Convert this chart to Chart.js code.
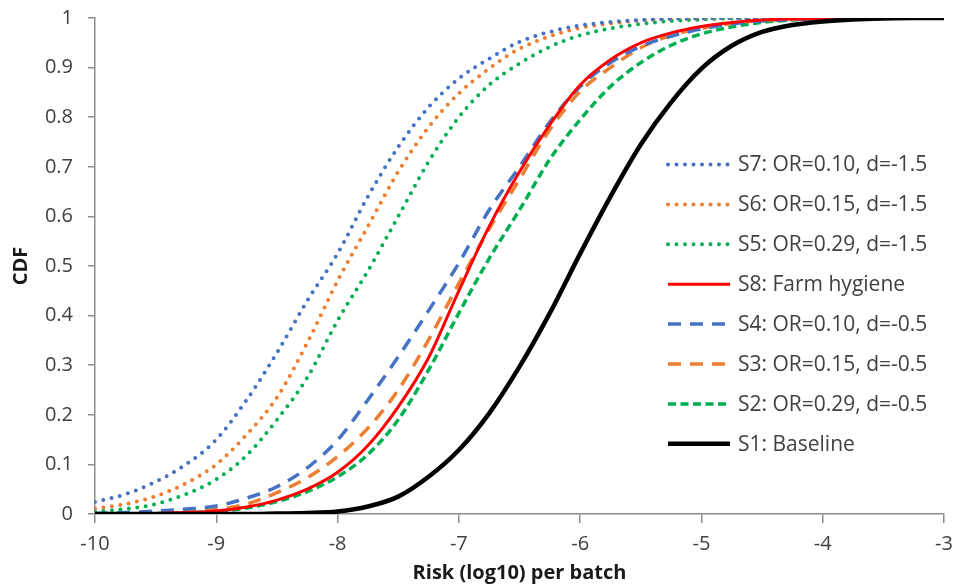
<!DOCTYPE html>
<html>
<head>
<meta charset="utf-8">
<title>CDF of risk per batch</title>
<script src="https://cdn.jsdelivr.net/npm/chart.js@4.4.1/dist/chart.umd.min.js"></script>
<style>
  html, body { margin: 0; padding: 0; background: #fff; overflow: hidden; }
  canvas { display: block; }
</style>
</head>
<body>
<canvas id="cdf" width="955" height="586"></canvas>
<script>
var xValues = [-10, -9.75, -9.5, -9.25, -9, -8.75, -8.5, -8.25, -8, -7.75, -7.5, -7.25, -7, -6.75,
  -6.5, -6.25, -6, -5.75, -5.5, -5.25, -5, -4.75, -4.5, -4.25, -4, -3.75, -3.5, -3.25, -3];

var s7 = [0.024, 0.04, 0.065, 0.10, 0.15, 0.23, 0.325, 0.43, 0.525, 0.64, 0.74, 0.82, 0.878, 0.918,
  0.952, 0.972, 0.985, 0.992, 0.996, 0.998, 0.999, 1, 1, 1, 1, 1, 1, 1, 1];
var s6 = [0.011, 0.02, 0.036, 0.062, 0.10, 0.16, 0.235, 0.345, 0.47, 0.58, 0.69, 0.78, 0.848, 0.898,
  0.938, 0.963, 0.98, 0.989, 0.995, 0.998, 0.999, 1, 1, 1, 1, 1, 1, 1, 1];
var s5 = [0.005, 0.01, 0.02, 0.04, 0.07, 0.118, 0.19, 0.275, 0.39, 0.49, 0.60, 0.71, 0.80, 0.865,
  0.908, 0.942, 0.965, 0.979, 0.988, 0.994, 0.997, 0.999, 1, 1, 1, 1, 1, 1, 1];
var s8 = [0, 0.0005, 0.001, 0.003, 0.006, 0.014, 0.028, 0.05, 0.084, 0.138, 0.216, 0.315, 0.45, 0.58,
  0.69, 0.785, 0.865, 0.916, 0.95, 0.97, 0.983, 0.991, 0.996, 0.998, 0.999, 1, 1, 1, 1];
var s4 = [0.001, 0.003, 0.006, 0.01, 0.016, 0.032, 0.055, 0.093, 0.149, 0.23, 0.317, 0.41, 0.506, 0.613,
  0.70, 0.79, 0.862, 0.91, 0.943, 0.963, 0.978, 0.988, 0.994, 0.997, 0.999, 1, 1, 1, 1];
var s3 = [0.0005, 0.001, 0.003, 0.005, 0.009, 0.02, 0.043, 0.073, 0.116, 0.173, 0.25, 0.351, 0.465, 0.575,
  0.675, 0.775, 0.852, 0.90, 0.94, 0.965, 0.979, 0.989, 0.995, 0.998, 0.999, 1, 1, 1, 1];
var s2 = [0, 0.0005, 0.001, 0.003, 0.005, 0.012, 0.025, 0.045, 0.075, 0.12, 0.19, 0.29, 0.405, 0.515,
  0.613, 0.715, 0.795, 0.862, 0.91, 0.945, 0.968, 0.982, 0.991, 0.996, 0.999, 1, 1, 1, 1];
var s1 = [0, 0, 0, 0, 0, 0, 0.001, 0.002, 0.005, 0.015, 0.035, 0.075, 0.129, 0.203,
  0.297, 0.405, 0.525, 0.64, 0.745, 0.83, 0.898, 0.944, 0.972, 0.986, 0.993, 0.997, 0.999, 1, 1];

var seriesNames = ["S7: OR=0.10, d=-1.5", "S6: OR=0.15, d=-1.5", "S5: OR=0.29, d=-1.5", "S8: Farm hygiene",
  "S4: OR=0.10, d=-0.5", "S3: OR=0.15, d=-0.5", "S2: OR=0.29, d=-0.5", "S1: Baseline"];

var xTitle = "Risk (log10) per batch";
var yTitle = "CDF";

var BLUE = "#4472C4", ORANGE = "#ED7D31", GREEN = "#00B050", RED = "#FF0000", BLACK = "#000000";
var textColor = "#404040";
var axisColor = "#8c8c8c";

function pts(ys) {
  return xValues.map(function (x, i) { return {x: x, y: ys[i]}; });
}

function dotted(label, ys, color) {
  return {label: label, data: pts(ys), borderColor: color, borderWidth: 4, borderDash: [0, 8.5],
    borderCapStyle: "round", order: 2};
}
function dashed(label, ys, color, dash) {
  return {label: label, data: pts(ys), borderColor: color, borderWidth: 3.5, borderDash: dash,
    borderCapStyle: "butt", order: 2};
}

var datasets = [
  dotted(seriesNames[0], s7, BLUE),
  dotted(seriesNames[1], s6, ORANGE),
  dotted(seriesNames[2], s5, GREEN),
  {label: seriesNames[3], data: pts(s8), borderColor: RED, borderWidth: 3, order: 1},
  dashed(seriesNames[4], s4, BLUE, [13, 9]),
  dashed(seriesNames[5], s3, ORANGE, [13, 9]),
  dashed(seriesNames[6], s2, GREEN, [8, 4.5]),
  {label: seriesNames[7], data: pts(s1), borderColor: BLACK, borderWidth: 4.5, order: 0}
];

// legend drawn inside the plot, right-hand side, like the original
var insideLegend = {
  id: "insideLegend",
  afterDatasetsDraw: function (chart) {
    var ctx = chart.ctx;
    var area = chart.chartArea;
    var x0 = area.right - 276, x1 = area.right - 214, tx = area.right - 206;
    ctx.save();
    ctx.font = "21px 'Open Sans'";
    ctx.textBaseline = "middle";
    ctx.fillStyle = textColor;
    chart.data.datasets.forEach(function (ds, i) {
      var y = 164.5 + i * 39.9;
      ctx.strokeStyle = ds.borderColor;
      ctx.lineWidth = ds.borderWidth;
      ctx.setLineDash(ds.borderDash || []);
      ctx.lineCap = ds.borderCapStyle || "butt";
      ctx.beginPath();
      ctx.moveTo(x0, y);
      ctx.lineTo(x1, y);
      ctx.stroke();
      ctx.fillText(ds.label, tx, y + 1);
    });
    ctx.restore();
  }
};

Chart.defaults.font.family = "'Open Sans', 'DejaVu Sans', sans-serif";
Chart.defaults.color = textColor;

new Chart(document.getElementById("cdf"), {
  type: "line",
  data: {datasets: datasets},
  options: {
    responsive: false,
    maintainAspectRatio: false,
    animation: false,
    events: [],
    layout: {padding: {top: 18, right: 11, left: 0, bottom: 0}},
    elements: {
      point: {radius: 0},
      line: {cubicInterpolationMode: "monotone", fill: false}
    },
    plugins: {legend: {display: false}, tooltip: {enabled: false}},
    scales: {
      x: {
        type: "linear", min: -10, max: -3,
        afterFit: function (s) { s.height = 72; s.paddingLeft = 0; s.paddingRight = 0; },
        ticks: {stepSize: 1, font: {size: 20}, color: textColor, padding: 9, maxRotation: 0},
        grid: {drawOnChartArea: false, drawTicks: true, tickLength: 9, color: axisColor, lineWidth: 1.5},
        border: {color: axisColor, width: 1.5},
        title: {display: true, text: xTitle, color: "#1a1a1a", font: {size: 20, weight: "bold"},
          padding: {top: 0, bottom: 1}}
      },
      y: {
        min: 0, max: 1,
        afterFit: function (s) { s.width = 95; s.paddingTop = 0; s.paddingBottom = 0; },
        ticks: {stepSize: 0.1, font: {size: 20}, color: textColor, padding: 15,
          callback: function (v) { return String(Math.round(v * 10) / 10); }},
        grid: {drawOnChartArea: false, drawTicks: true, tickLength: 7, color: axisColor, lineWidth: 1.5},
        border: {color: axisColor, width: 1.5},
        title: {display: true, text: yTitle, color: "#1a1a1a", font: {size: 20, weight: "bold"},
          padding: {top: 9, bottom: 0}}
      }
    }
  },
  plugins: [insideLegend]
});
</script>
</body>
</html>
